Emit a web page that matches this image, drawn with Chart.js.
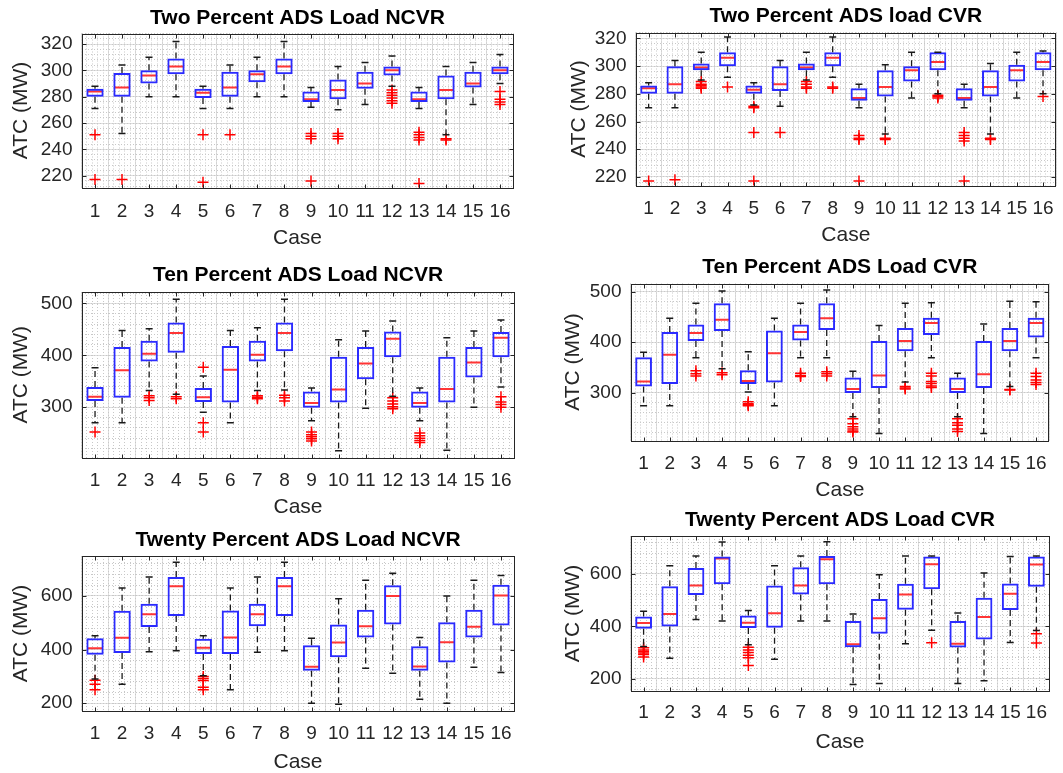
<!DOCTYPE html>
<html>
<head>
<meta charset="utf-8">
<script src="https://cdn.jsdelivr.net/npm/chart.js@4.4.1/dist/chart.umd.min.js"></script>
<style>
  html, body { margin: 0; padding: 0; background: #fff; overflow: hidden; width: 1063px; height: 773px; }
  canvas { position: absolute; }
</style>
</head>
<body>
<canvas id="c1"></canvas>
<canvas id="c2"></canvas>
<canvas id="c3"></canvas>
<canvas id="c4"></canvas>
<canvas id="c5"></canvas>
<canvas id="c6"></canvas>
<script>
const cases = [1, 2, 3, 4, 5, 6, 7, 8, 9, 10, 11, 12, 13, 14, 15, 16];

// Two Percent ADS Load NCVR
const twoNcvrLo  = [271, 252, 280, 280, 271, 271, 280, 280, 272, 270, 274, 288, 271, 251, 274, 290];
const twoNcvrQ1  = [280, 280, 290, 297, 279, 280, 291, 297, 276, 278, 286, 296, 276, 278, 287, 297];
const twoNcvrMed = [284, 287, 296, 303, 283, 287, 297, 303, 278, 285, 290, 300, 278, 285, 290, 300];
const twoNcvrQ3  = [286, 298, 300, 309, 286, 299, 300, 309, 284, 293, 299, 303, 284, 296, 299, 303];
const twoNcvrHi  = [288, 304, 310, 322, 288, 304, 310, 322, 287, 303, 306, 311, 287, 303, 306, 312];
const twoNcvrOut = [[251, 217], [217], [], [], [251, 215], [251], [], [], [252, 250, 248, 216], [252, 250, 248], [],
  [285, 283, 281, 279, 277, 275], [253, 251, 249, 247, 214], [248, 247], [], [284, 278, 276, 274]];

// Two Percent ADS load CVR
const twoCvrLo  = [270, 270, 290, 292, 272, 271, 290, 292, 270, 251, 277, 280, 270, 251, 277, 280];
const twoCvrQ1  = [280, 280, 297, 300, 280, 282, 297, 300, 275, 278, 289, 297, 275, 278, 289, 297];
const twoCvrMed = [284, 287, 299, 306, 283, 287, 299, 306, 277, 285, 297, 303, 277, 285, 297, 303];
const twoCvrQ3  = [286, 300, 302, 310, 286, 300, 302, 310, 284, 297, 300, 310, 284, 297, 301, 310];
const twoCvrHi  = [288, 304, 310, 321, 288, 304, 310, 321, 287, 301, 310, 310, 287, 302, 310, 311];
const twoCvrOut = [[217], [218], [289, 287, 286, 285, 284], [285], [271, 270, 252, 217], [252], [289, 287, 285, 284],
  [285, 284], [250, 248, 247, 217], [248, 247], [], [279, 278, 277], [252, 250, 248, 246, 217], [248, 247], [], [278]];

// Ten Percent ADS Load NCVR
const tenNcvrLo  = [270, 270, 332, 325, 290, 270, 332, 333, 274, 216, 298, 321, 274, 217, 300, 339];
const tenNcvrQ1  = [312, 318, 388, 405, 310, 309, 388, 408, 299, 309, 354, 396, 299, 309, 357, 396];
const tenNcvrMed = [320, 371, 403, 443, 319, 372, 401, 443, 308, 334, 384, 432, 308, 335, 386, 434];
const tenNcvrQ3  = [339, 416, 428, 463, 337, 418, 428, 463, 330, 397, 416, 446, 330, 397, 416, 445];
const tenNcvrHi  = [376, 448, 451, 508, 360, 448, 453, 508, 337, 430, 447, 466, 337, 434, 447, 468];
const tenNcvrOut = [[252], [], [322, 318, 313], [320, 316], [377, 270, 252], [], [322, 319, 316], [323, 318, 312],
  [252, 247, 243, 239, 235], [], [], [318, 312, 306, 301, 297], [250, 245, 240, 236, 232], [], [], [320, 310, 305, 300]];

// Ten Percent ADS Load CVR
const tenCvrLo  = [274, 274, 369, 347, 301, 274, 369, 369, 252, 219, 321, 369, 252, 219, 312, 369];
const tenCvrQ1  = [312, 317, 402, 422, 317, 320, 403, 424, 299, 309, 382, 414, 299, 309, 382, 409];
const tenCvrMed = [322, 375, 418, 444, 323, 378, 420, 447, 307, 334, 402, 438, 307, 336, 402, 438];
const tenCvrQ3  = [370, 420, 435, 477, 344, 423, 435, 477, 330, 402, 428, 448, 330, 402, 428, 448];
const tenCvrHi  = [380, 447, 477, 501, 381, 447, 477, 503, 342, 433, 477, 478, 338, 436, 481, 480];
const tenCvrOut = [[], [], [343, 337, 333], [339, 335], [282, 278, 276, 274], [], [338, 334, 332], [341, 337, 333],
  [248, 238, 232, 228, 224, 222], [], [312, 309, 307], [338, 333, 322, 318, 313, 310], [248, 240, 235, 228, 223], [],
  [306, 305], [338, 332, 325, 320, 316]];

// Twenty Percent ADS Load NCVR
const twentyNcvrLo  = [290, 271, 392, 396, 302, 250, 390, 396, 200, 196, 330, 312, 215, 200, 334, 315];
const twentyNcvrQ1  = [381, 387, 484, 525, 384, 384, 487, 525, 321, 371, 445, 494, 321, 352, 445, 490];
const twentyNcvrMed = [405, 444, 532, 636, 407, 445, 532, 636, 336, 426, 487, 600, 337, 427, 485, 602];
const twentyNcvrQ3  = [442, 545, 571, 671, 440, 546, 571, 671, 416, 494, 549, 640, 412, 502, 549, 642];
const twentyNcvrHi  = [452, 630, 671, 726, 452, 630, 671, 726, 442, 590, 659, 685, 445, 600, 659, 676];
const twentyNcvrOut = [[286, 271, 250], [], [], [], [300, 292, 285, 260, 250], [], [], [], [], [], [], [], [], [], [], []];

// Twenty Percent ADS Load CVR
const twentyCvrLo  = [323, 278, 426, 420, 330, 274, 420, 420, 178, 182, 333, 385, 182, 192, 338, 384];
const twentyCvrQ1  = [391, 399, 520, 561, 394, 395, 522, 561, 320, 372, 463, 542, 319, 350, 462, 551];
const twentyCvrMed = [413, 447, 556, 659, 414, 450, 556, 656, 332, 431, 522, 637, 333, 436, 524, 636];
const twentyCvrQ3  = [438, 553, 623, 667, 441, 556, 626, 669, 420, 504, 563, 667, 420, 509, 564, 667];
const twentyCvrHi  = [458, 631, 669, 722, 460, 631, 669, 723, 447, 597, 669, 669, 451, 604, 667, 669];
const twentyCvrOut = [[318, 310, 304, 298, 292, 283], [], [], [], [320, 310, 300, 290, 280, 250], [], [], [], [], [], [], [337],
  [], [], [], [372, 336]];

const twoTicks = [220, 240, 260, 280, 300, 320];
const tenTicks = [300, 400, 500];
const twentyTicks = [200, 400, 600];

const FONT = "'Liberation Sans', Arial, sans-serif";
const INK = '#262626';

// axes box with MATLAB-style inward tick marks
const frame = {
  id: 'frame',
  afterDatasetsDraw(chart) {
    const a = chart.chartArea;
    const ctx = chart.ctx;
    const l = Math.round(a.left) + 0.5;
    const t = Math.round(a.top) + 0.5;
    const r = Math.round(a.right) - 0.5;
    const b = Math.round(a.bottom) + 0.5;
    ctx.save();
    ctx.strokeStyle = INK;
    ctx.lineWidth = 1;
    ctx.strokeRect(l, t, r - l, b - t);
    ctx.beginPath();
    chart.scales.x.ticks.forEach((tk) => {
      const px = Math.round(chart.scales.x.getPixelForValue(tk.value)) + 0.5;
      ctx.moveTo(px, b); ctx.lineTo(px, b - 4);
      ctx.moveTo(px, t); ctx.lineTo(px, t + 4);
    });
    chart.scales.y.ticks.forEach((tk) => {
      const py = Math.round(chart.scales.y.getPixelForValue(tk.value)) + 0.5;
      ctx.moveTo(l, py); ctx.lineTo(l + 4, py);
      ctx.moveTo(r, py); ctx.lineTo(r - 4, py);
    });
    ctx.stroke();
    ctx.restore();
  },
};

function steps(min, max, step) {
  const out = [];
  for (let v = Math.ceil(min / step) * step; v <= max + 1e-9; v += step) out.push({ value: v });
  return out;
}

function boxPanel(id, g, title, yRange, yTicks, yMinor, lo, q1, med, q3, hi, out) {
  const el = document.getElementById(id);
  const cy0 = Math.floor(g.titleY - 14.6);
  const cy1 = Math.ceil(g.caseY + 13.6);
  const cx1 = Math.ceil(g.R) + 2;
  el.width = cx1 - g.x0;
  el.height = cy1 - cy0;
  el.style.left = g.x0 + 'px';
  el.style.top = cy0 + 'px';

  const titlePadTop = g.titleY - 12.6 - cy0;
  const whiskers = [];
  const caps = [];
  const outliers = [];
  cases.forEach((c, i) => {
    whiskers.push({ x: c, y: q3[i] }, { x: c, y: hi[i] }, { x: c, y: null });
    whiskers.push({ x: c, y: q1[i] }, { x: c, y: lo[i] }, { x: c, y: null });
    caps.push({ x: c, y: lo[i] }, { x: c, y: hi[i] });
    out[i].forEach((v) => outliers.push({ x: c, y: v }));
  });

  new Chart(el, {
    type: 'bar',
    data: {
      datasets: [
        {
          type: 'line',
          data: whiskers,
          borderColor: '#1a1a1a',
          borderWidth: 1.3,
          borderDash: [6, 4],
          pointRadius: 0,
          spanGaps: false,
          xAxisID: 'x',
          yAxisID: 'y',
        },
        {
          type: 'line',
          data: caps,
          showLine: false,
          pointStyle: 'line',
          pointRadius: 3.5,
          pointBorderColor: '#1a1a1a',
          pointBorderWidth: 1.5,
          xAxisID: 'x',
          yAxisID: 'y',
        },
        {
          type: 'bar',
          data: cases.map((c, i) => ({ x: c, y: [q1[i], q3[i]] })),
          backgroundColor: 'rgba(0,0,0,0)',
          borderColor: '#2b2bff',
          borderWidth: 2,
          borderSkipped: false,
          barPercentage: 0.64,
          categoryPercentage: 1,
          xAxisID: 'x',
          yAxisID: 'y',
        },
        {
          type: 'line',
          data: cases.map((c, i) => ({ x: c, y: med[i] })),
          showLine: false,
          pointStyle: 'line',
          pointRadius: 7.5,
          pointBorderColor: '#ff3535',
          pointBorderWidth: 2,
          xAxisID: 'x',
          yAxisID: 'y',
        },
        {
          type: 'line',
          data: outliers,
          showLine: false,
          pointStyle: 'cross',
          pointRadius: 5.5,
          pointBorderColor: '#ff0000',
          pointBorderWidth: 1.5,
          xAxisID: 'x',
          yAxisID: 'y',
        },
      ],
    },
    options: {
      responsive: false,
      animation: false,
      events: [],
      layout: { padding: { left: 0, right: cx1 - g.R, top: 0, bottom: 0 } },
      plugins: {
        legend: { display: false },
        tooltip: { enabled: false },
        title: {
          display: true,
          text: title,
          fullSize: false,
          color: '#000',
          font: { family: FONT, size: 21, weight: 'bold' },
          padding: { top: titlePadTop, bottom: g.T - cy0 - titlePadTop - 25.2 },
        },
      },
      scales: {
        x: {
          type: 'linear',
          min: 0.5,
          max: 16.5,
          offset: false,
          afterBuildTicks: (s) => { s.ticks = cases.map((c) => ({ value: c })); },
          afterFit: (s) => { s.height = cy1 - g.B; },
          ticks: {
            autoSkip: false,
            maxRotation: 0,
            color: INK,
            padding: g.tickY - g.B - 11.4,
            font: { family: FONT, size: 19 },
          },
          grid: { color: '#dedede', drawTicks: false },
          border: { display: false },
          title: {
            display: true,
            text: 'Case',
            color: INK,
            font: { family: FONT, size: 21 },
            padding: { top: 0, bottom: cy1 - g.caseY - 12.6 },
          },
        },
        y: {
          type: 'linear',
          min: yRange[0],
          max: yRange[1],
          afterBuildTicks: (s) => { s.ticks = yTicks.map((v) => ({ value: v })); },
          afterFit: (s) => { s.width = g.L - g.x0; },
          ticks: { color: INK, padding: 9, font: { family: FONT, size: 19 } },
          grid: { color: '#dedede', drawTicks: false },
          border: { display: false },
          title: {
            display: true,
            text: 'ATC (MW)',
            color: INK,
            font: { family: FONT, size: 21 },
            padding: { top: g.ylabX - g.x0 - 12.6, bottom: 0 },
          },
        },
        xm: {
          type: 'linear',
          position: 'bottom',
          min: 0.5,
          max: 16.5,
          offset: false,
          afterBuildTicks: (s) => { s.ticks = steps(0.5, 16.5, 0.2); },
          afterFit: (s) => { s.height = 0; },
          ticks: { display: false },
          grid: { color: '#c8c8c8', drawTicks: false },
          border: { display: false, dash: [1, 2] },
        },
        ym: {
          type: 'linear',
          position: 'left',
          min: yRange[0],
          max: yRange[1],
          afterBuildTicks: (s) => { s.ticks = steps(yRange[0], yRange[1], yMinor); },
          afterFit: (s) => { s.width = 0; },
          ticks: { display: false },
          grid: { color: '#c8c8c8', drawTicks: false },
          border: { display: false, dash: [1, 2] },
        },
      },
    },
    plugins: [frame],
  });
}

boxPanel('c1', { x0: 0, L: 81.5, R: 521.5, T: 33.5, B: 187.5, titleY: 18, tickY: 212, caseY: 238, ylabX: 21 },
  'Two Percent ADS Load NCVR', [211, 328], twoTicks, 4,
  twoNcvrLo, twoNcvrQ1, twoNcvrMed, twoNcvrQ3, twoNcvrHi, twoNcvrOut);

boxPanel('c2', { x0: 540, L: 635.5, R: 1064, T: 32.5, B: 185.5, titleY: 16, tickY: 209, caseY: 235.5, ylabX: 579 },
  'Two Percent ADS load CVR', [213.8, 324.3], twoTicks, 4,
  twoCvrLo, twoCvrQ1, twoCvrMed, twoCvrQ3, twoCvrHi, twoCvrOut);

boxPanel('c3', { x0: 0, L: 81.5, R: 521.5, T: 292, B: 457.5, titleY: 275, tickY: 481, caseY: 507.5, ylabX: 21 },
  'Ten Percent ADS Load NCVR', [203, 522], tenTicks, 20,
  tenNcvrLo, tenNcvrQ1, tenNcvrMed, tenNcvrQ3, tenNcvrHi, tenNcvrOut);

boxPanel('c4', { x0: 540, L: 630.5, R: 1057, T: 283.5, B: 440.5, titleY: 267, tickY: 464, caseY: 490, ylabX: 573 },
  'Ten Percent ADS Load CVR', [205, 516], tenTicks, 20,
  tenCvrLo, tenCvrQ1, tenCvrMed, tenCvrQ3, tenCvrHi, tenCvrOut);

boxPanel('c5', { x0: 0, L: 81.5, R: 521.5, T: 556, B: 711, titleY: 540, tickY: 734, caseY: 762, ylabX: 21 },
  'Twenty Percent ADS Load NCVR', [171, 749], twentyTicks, 40,
  twentyNcvrLo, twentyNcvrQ1, twentyNcvrMed, twentyNcvrQ3, twentyNcvrHi, twentyNcvrOut);

boxPanel('c6', { x0: 540, L: 630.5, R: 1057, T: 536, B: 691, titleY: 520, tickY: 713, caseY: 742, ylabX: 573 },
  'Twenty Percent ADS Load CVR', [153, 745], twentyTicks, 40,
  twentyCvrLo, twentyCvrQ1, twentyCvrMed, twentyCvrQ3, twentyCvrHi, twentyCvrOut);
</script>
</body>
</html>
